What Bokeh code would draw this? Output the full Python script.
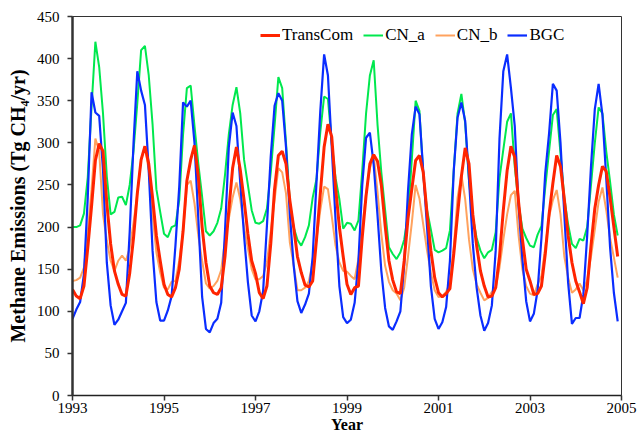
import numpy as np
from bokeh.plotting import figure
from bokeh.models import Range1d, FixedTicker, Legend, LegendItem
from bokeh.embed import file_html
from bokeh.resources import INLINE

# Monthly methane emissions (Tg CH4/yr), Jan 1993 - Dec 2004
transcom = [
    126, 118, 115, 130, 175, 225, 279, 299, 290, 228, 180, 148,   # 1993
    132, 120, 118, 145, 187, 240, 280, 296, 275, 235, 190, 160,   # 1994
    132, 120, 117, 128, 150, 195, 255, 280, 297, 260, 200, 158,   # 1995
    130, 122, 120, 128, 165, 220, 270, 295, 268, 232, 192, 160,   # 1996
    145, 122, 115, 130, 180, 245, 285, 290, 275, 232, 200, 165,   # 1997
    146, 131, 129, 136, 185, 240, 295, 322, 307, 247, 200, 165,   # 1998
    132, 120, 128, 130, 188, 237, 275, 286, 278, 250, 202, 160,   # 1999
    137, 123, 121, 160, 210, 245, 279, 285, 265, 216, 172, 140,   # 2000
    122, 117, 121, 127, 168, 215, 260, 294, 275, 215, 178, 148,   # 2001
    130, 117, 118, 128, 165, 220, 267, 296, 283, 230, 186, 150,   # 2002
    136, 120, 121, 130, 168, 215, 252, 285, 272, 233, 190, 158,   # 2003
    136, 123, 109, 128, 178, 222, 250, 272, 266, 235, 200, 165,   # 2004
]
cn_a = [
    200, 200, 202, 216, 259, 343, 420, 390, 335, 260, 215, 218,
    235, 236, 226, 250, 290, 347, 410, 415, 380, 322, 245, 218,
    192, 188, 200, 202, 232, 310, 365, 368, 320, 275, 236, 195,
    190, 195, 205, 222, 262, 310, 345, 366, 335, 280, 250, 220,
    205, 204, 207, 222, 265, 320, 378, 365, 300, 230, 200, 185,
    178, 188, 202, 235, 257, 313, 355, 352, 300, 258, 233, 198,
    205, 204, 196, 208, 267, 335, 380, 398, 322, 265, 220, 176,
    168, 162, 170, 185, 215, 280, 350, 338, 262, 220, 197, 173,
    170, 172, 175, 196, 267, 335, 358, 323, 255, 212, 187, 172,
    163, 170, 173, 194, 258, 292, 325, 335, 272, 228, 198, 187,
    178, 176, 191, 201, 247, 290, 333, 340, 287, 235, 203, 180,
    175, 186, 184, 200, 250, 300, 342, 335, 290, 254, 215, 190,
]
cn_b = [
    136, 137, 140, 152, 195, 245, 305, 290, 215, 184, 160, 148,
    160, 166, 160, 175, 205, 240, 280, 296, 267, 215, 170, 146,
    128, 126, 135, 136, 160, 195, 250, 255, 228, 190, 160, 133,
    127, 130, 136, 149, 185, 210, 235, 253, 233, 200, 175, 150,
    138, 138, 142, 158, 195, 232, 270, 265, 240, 182, 155, 125,
    125, 128, 136, 158, 185, 220, 248, 245, 213, 178, 158, 148,
    147, 142, 138, 162, 200, 240, 270, 285, 242, 192, 154, 135,
    125, 121, 113, 128, 165, 205, 250, 234, 203, 172, 146, 125,
    117, 118, 123, 134, 176, 235, 262, 233, 185, 150, 132, 122,
    113, 116, 123, 128, 152, 185, 215, 238, 243, 190, 150, 130,
    121, 119, 132, 142, 176, 212, 232, 244, 215, 165, 140, 122,
    126, 133, 125, 137, 165, 197, 230, 247, 220, 187, 164, 140,
]
bgc = [
    91, 102, 111, 144, 235, 360, 336, 332, 268, 158, 107, 84,
    90, 100, 110, 194, 299, 385, 362, 345, 267, 172, 111, 89,
    89, 101, 118, 178, 248, 348, 343, 350, 300, 210, 117, 79,
    75, 86, 91, 110, 195, 295, 336, 320, 252, 190, 135, 95,
    88, 100, 124, 202, 284, 344, 359, 350, 295, 216, 155, 112,
    98, 108, 121, 165, 253, 338, 405, 380, 295, 208, 130, 93,
    86, 90, 110, 160, 250, 306, 312, 274, 214, 148, 104, 82,
    78, 88, 100, 155, 243, 310, 343, 334, 266, 200, 130, 91,
    79, 87, 105, 160, 267, 330, 348, 326, 257, 180, 128, 95,
    77, 86, 107, 172, 305, 385, 405, 365, 320, 225, 162, 112,
    88, 97, 125, 187, 264, 311, 370, 362, 300, 215, 134, 85,
    92, 92, 120, 190, 272, 340, 370, 333, 258, 176, 122, 88,
]
x_ticks = [1993, 1995, 1997, 1999, 2001, 2003, 2005]
y_ticks = [0, 50, 100, 150, 200, 250, 300, 350, 400, 450]

months = [1993 + i / 12 for i in range(len(transcom))]

p = figure(width=639, height=441, output_backend="svg", toolbar_location=None,
           x_range=Range1d(1993, 2005), y_range=Range1d(0, 450),
           min_border_left=72, min_border_right=18, min_border_top=16,
           min_border_bottom=46)
p.grid.visible = False
p.background_fill_color = "white"
p.border_fill_color = "white"
p.outline_line_color = "#333333"
p.outline_line_width = 1

serif = "Liberation Serif"

r_a = p.line(months, cn_a, line_color="#00E84E", line_width=2)
r_b = p.line(months, cn_b, line_color="#FFA25E", line_width=2)
r_bgc = p.line(months, bgc, line_color="#0A2DFF", line_width=2.2)
r_tc = p.line(months, transcom, line_color="#FF2400", line_width=3)

legend = Legend(items=[
    LegendItem(label="TransCom", renderers=[r_tc]),
    LegendItem(label="CN_a", renderers=[r_a]),
    LegendItem(label="CN_b", renderers=[r_b]),
    LegendItem(label="BGC", renderers=[r_bgc]),
], orientation="horizontal", location=(188, 350))
legend.border_line_color = None
legend.background_fill_alpha = 0
legend.padding = 0
legend.margin = 0
legend.spacing = 10
legend.glyph_width = 20
legend.glyph_height = 20
legend.label_height = 20
legend.label_standoff = 2
legend.label_text_font = serif
legend.label_text_font_size = "17px"
legend.label_text_color = "black"
p.add_layout(legend)

xa = p.xaxis[0]
xa.ticker = FixedTicker(ticks=x_ticks)
xa.axis_label = "Year"
xa.axis_line_width = 1.5
xa.axis_line_color = "#222222"
ya = p.yaxis[0]
ya.ticker = FixedTicker(ticks=y_ticks)
ya.axis_label = "Methane Emissions (Tg CH\u2084/yr)"
ya.axis_line_width = 2.5
ya.axis_line_color = "#333333"

for ax in (xa, ya):
    ax.major_tick_out = 5
    ax.major_tick_in = 0
    ax.minor_tick_line_color = None
    ax.major_tick_line_color = "#333333"
    ax.major_tick_line_width = 1.5
    ax.major_label_text_font = serif
    ax.major_label_text_font_size = "15px"
    ax.major_label_text_color = "black"
    ax.axis_label_text_font = serif
    ax.axis_label_text_font_style = "bold"
    ax.axis_label_text_color = "black"

xa.axis_label_text_font_size = "16px"
xa.major_label_standoff = 2
xa.axis_label_standoff = 0
ya.axis_label_text_font_size = "20px"
ya.major_label_standoff = 8
ya.axis_label_standoff = 5

open("out.html", "w").write(file_html(p, INLINE))
